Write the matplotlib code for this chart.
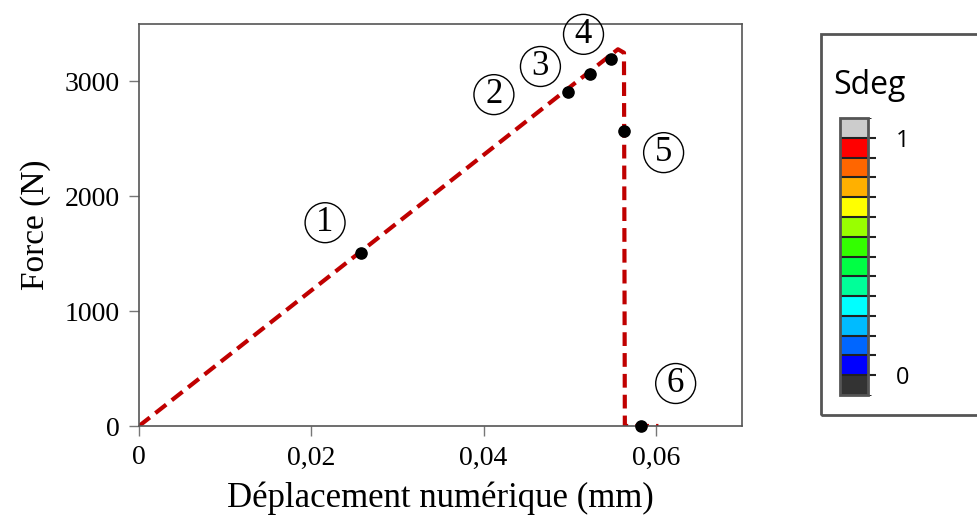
import matplotlib
matplotlib.use("Agg")
import matplotlib.pyplot as plt
import matplotlib as mpl
from matplotlib.colors import ListedColormap, BoundaryNorm
from matplotlib.patches import Rectangle

# ── Data ──────────────────────────────────────────────────────────────────────
curve_x = [0.0, 0.0556, 0.0563, 0.0564, 0.0603]
curve_y = [0.0, 3280.0, 3250.0, 0.0, 0.0]

pts_x = [0.0258, 0.0498, 0.0523, 0.0548, 0.0563, 0.0583]
pts_y = [1508, 2912, 3069, 3191, 2572, 0]

lbl_text = ["1", "2", "3", "4", "5", "6"]
lbl_x = [0.0216, 0.0412, 0.0466, 0.0516, 0.0609, 0.0623]
lbl_y = [1770, 2885, 3130, 3410, 2380, 370]

xticks = [0, 0.02, 0.04, 0.06]
xtick_labels = ["0", "0,02", "0,04", "0,06"]
yticks = [0, 1000, 2000, 3000]

sdeg_colors = ["#333333", "#0000ff", "#0066ff", "#00bbff", "#00ffff",
               "#00ff99", "#00ff44", "#33ff00", "#99ff00", "#ffff00",
               "#ffb000", "#ff6600", "#ff0000", "#cccccc"]

serif = "Liberation Serif"
sans = "Open Sans"

fig = plt.figure(figsize=(9.78, 5.3), dpi=100)
W, H = 978, 530

# ── Main plot ─────────────────────────────────────────────────────────────────
ax = fig.add_axes([139 / W, (H - 426) / H, (742 - 139) / W, (426 - 24) / H])
ax.plot(curve_x, curve_y, color="#c00000", lw=3.0, dashes=(3.3, 1.7),
        solid_capstyle="butt")
ax.scatter(pts_x, pts_y, s=65, color="black", zorder=3, clip_on=False)

for t, x, y in zip(lbl_text, lbl_x, lbl_y):
    ax.text(x, y, t, ha="center", va="center", fontsize=25, family=serif,
            bbox=dict(boxstyle="circle,pad=0.1", fc="none", ec="black", lw=1))

ax.set_xlim(0, 0.07)
ax.set_ylim(0, 3500)
ax.set_xticks(xticks)
ax.set_xticklabels(xtick_labels)
ax.set_yticks(yticks)
ax.tick_params(direction="out", length=7, width=1, color="#777777",
               labelsize=20, pad=7)
for lab in ax.get_xticklabels() + ax.get_yticklabels():
    lab.set_family(serif)
for sp in ax.spines.values():
    sp.set_color("#555555")
    sp.set_linewidth(1.2)

ax.set_xlabel("Déplacement numérique (mm)", fontsize=25, family=serif,
              labelpad=8)
ax.set_ylabel("Force (N)", fontsize=24, family=serif, labelpad=10)

# ── Sdeg legend box ───────────────────────────────────────────────────────────
fig.patches.append(Rectangle((821 / W, (H - 415) / H), 200 / W, (415 - 34) / H,
                             transform=fig.transFigure, fill=False,
                             ec="#555555", lw=2))
fig.text(833 / W, (H - 86) / H, "Sdeg", fontsize=23, family=sans,
         ha="left", va="center")

cax = fig.add_axes([840 / W, (H - 395) / H, 28 / W, (395 - 118) / H])
n = len(sdeg_colors)
cmap = ListedColormap(sdeg_colors)
norm = BoundaryNorm(list(range(n + 1)), n)
cb = mpl.colorbar.ColorbarBase(cax, cmap=cmap, norm=norm, drawedges=True,
                               orientation="vertical")
cb.dividers.set_color("#222222")
cb.dividers.set_linewidth(1.5)
cb.outline.set_edgecolor("#555555")
cb.outline.set_linewidth(2)
cb.set_ticks(list(range(1, n)))
cb.set_ticklabels(["0" if i == 1 else "1" if i == n - 1 else ""
                   for i in range(1, n)])
cax.tick_params(length=6, width=1.5, color="#222222", labelsize=17, pad=14)
for lab in cax.get_yticklabels():
    lab.set_family(sans)

fig.savefig("out.png", dpi=100)
